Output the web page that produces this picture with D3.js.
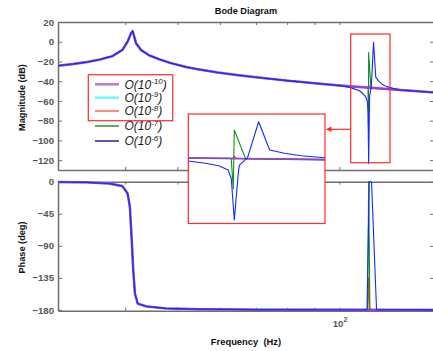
<!DOCTYPE html>
<html>
<head>
<meta charset="utf-8">
<script src="https://cdn.jsdelivr.net/npm/d3@7"></script>
<style>
  body { margin: 0; background: #fff; }
  svg { display: block; font-family: "Liberation Sans", Arial, sans-serif; }
</style>
</head>
<body>
<svg id="chart" width="433" height="351"></svg>
<script>
// ---- data -------------------------------------------------------------
// perturbation orders shown in the legend, O(10^k)
const orderExponents = ["-10", "-9", "-8", "-7", "-6"];

// response shared by every order (Hz, dB, deg)
const baseFreq = [30, 32, 34, 35.8, 37.9, 39.5, 40.4, 41.0, 41.3, 41.5, 41.9, 42.8, 44.3, 46.3,
                  48.5, 51.9, 55, 59.4, 65, 70, 80, 90, 100, 105, 110, 113.4, 116, 120, 122.6,
                  126, 130, 140, 150];
const baseMag  = [-24.3, -22.6, -20.5, -18.2, -14.5, -8.4, 0, 8.5, 10.9, 6.8, -1.6, -8.4, -13.8, -17.8,
                  -21.5, -25.6, -28.2, -31.2, -34, -36, -39.4, -42.1, -44.3, -45.2, -46.0, -46.5, -46.9,
                  -47.5, -47.9, -48.4, -48.9, -50.2, -51.4];
const phaseFreq = [30, 34, 37.3, 39.5, 40.4, 40.8, 41.1, 41.4, 41.7, 42.2, 43.8, 47.6, 55, 70, 100, 150];
const basePhase = [-0.5, -1, -2.5, -6, -16.4, -35, -77, -124, -157, -171, -175, -177.7, -179, -179.5,
                   -179.7, -179.8];

// local behaviour around the 113 Hz mode, replacing the shared response in this band
const detailBand = [104, 128];

const o8MagFreq = [105, 113.2, 113.4, 113.6, 126];
const o8Mag     = [-45.2, -46.5, -43.5, -46.6, -48.4];
const o8PhFreq  = [105, 112.9, 113.4, 113.9, 126];
const o8Phase   = [-179.7, -179.7, -135, -179.7, -179.7];

const o7MagFreq = [105, 113.1, 113.3, 113.4, 114.5, 126];
const o7Mag     = [-45.2, -46.4, -84.7, -10.9, -46.7, -48.4];
const o7PhFreq  = [105, 112.9, 113.4, 114.0, 126];
const o7Phase   = [-179.7, -179.7, 0, -179.7, -179.7];

const o6MagFreq = [105, 109.0, 110.6, 111.9, 112.8, 113.1, 113.4, 113.8, 113.9, 114.7, 115.8, 116.9,
                   118.4, 120.1, 122.6, 126];
const o6Mag     = [-46.5, -49.7, -52.5, -55.5, -60.9, -71.3, -123.5, -63.1, -54.7, -45.5, -0.5, -35.9,
                   -40, -43, -45.5, -47.3];
const o6PhFreq  = [105, 112.6, 113.7, 114.8, 117.3, 126];
const o6Phase   = [-179.7, -179.7, 0, 0, -179.7, -179.7];

// axis ticks
const magTicks = [20, 0, -20, -40, -60, -80, -100, -120];
const phaseTicks = [0, -45, -90, -135, -180];
const freqTicks = [30, 40, 50, 60, 70, 80, 90, 100];

// ---- helpers ------------------------------------------------------------
const zip = (f, v) => f.map((d, i) => ({ f: d, v: v[i] }));
function compose(bf, bv, df, dv) {
  const outside = zip(bf, bv).filter(p => p.f < detailBand[0] || p.f > detailBand[1]);
  return outside.concat(df ? zip(df, dv) : []).sort((a, b) => a.f - b.f);
}

const series = [
  { mag: compose(baseFreq, baseMag), ph: compose(phaseFreq, basePhase) },
  { mag: compose(baseFreq, baseMag), ph: compose(phaseFreq, basePhase) },
  { mag: compose(baseFreq, baseMag, o8MagFreq, o8Mag), ph: compose(phaseFreq, basePhase, o8PhFreq, o8Phase) },
  { mag: compose(baseFreq, baseMag, o7MagFreq, o7Mag), ph: compose(phaseFreq, basePhase, o7PhFreq, o7Phase) },
  { mag: compose(baseFreq, baseMag, o6MagFreq, o6Mag), ph: compose(phaseFreq, basePhase, o6PhFreq, o6Phase) }
];
const lineColors   = ["#9b3fd0", "#66f0f0", "#ff3b1f", "#109010", "#1428ff"];
const lineWidths   = [2.4, 2.2, 1.2, 1.1, 1.1];
const legendColors = ["#c07ed0", "#78f6f6", "#f4603c", "#1a8a1a", "#14148c"];
const drawOrder = [1, 2, 3, 0, 4];

// ---- layout -------------------------------------------------------------
const svg = d3.select("#chart");
const X0 = 58, X1 = 434;
const magTop = 22, magBot = 170, phTop = 181.7, phBot = 310.7;
const axisColor = "#6f6f6f";

const x = d3.scaleLog().domain([30, 150]).range([X0, X1]);
const yMag = d3.scaleLinear().domain([-130, 20]).range([magBot, magTop]);
const yPh = d3.scaleLinear().domain([-181, 0]).range([phBot, phTop]);

const defs = svg.append("defs");
defs.append("clipPath").attr("id", "clipMag").append("rect")
  .attr("x", X0).attr("y", magTop - 1).attr("width", X1 - X0).attr("height", magBot - magTop + 2);
defs.append("clipPath").attr("id", "clipPh").append("rect")
  .attr("x", X0).attr("y", phTop - 1.5).attr("width", X1 - X0).attr("height", phBot - phTop + 2);

// title
svg.append("text").attr("x", 246).attr("y", 13.5).attr("text-anchor", "middle")
  .attr("font-size", 9.2).attr("font-weight", "bold").attr("fill", "#111").text("Bode Diagram");

function styleAxis(g) {
  g.selectAll(".domain").attr("stroke", axisColor).attr("stroke-width", 1.5);
  g.selectAll(".tick line").attr("stroke", axisColor).attr("stroke-width", 1);
  g.selectAll(".tick text").attr("fill", "#555").attr("font-weight", "bold")
    .attr("font-size", 9.6).attr("font-family", "'Liberation Sans', Arial, sans-serif");
}

function panel(yScale, ticks, top, bot) {
  const g = svg.append("g");
  g.append("g").attr("transform", `translate(${X0},0)`)
    .call(d3.axisLeft(yScale).tickValues(ticks).tickSize(-4).tickSizeOuter(0).tickPadding(4))
    .call(styleAxis);
  g.append("g").attr("transform", `translate(${X1},0)`)
    .call(d3.axisRight(yScale).tickValues(ticks).tickSize(-4).tickSizeOuter(0).tickFormat(""))
    .call(styleAxis);
  g.append("g").attr("transform", `translate(0,${top})`)
    .call(d3.axisTop(x).tickValues(freqTicks).tickSize(-3).tickSizeOuter(0).tickFormat(""))
    .call(styleAxis);
  g.append("g").attr("transform", `translate(0,${bot})`)
    .call(d3.axisBottom(x).tickValues(freqTicks).tickSize(-3).tickSizeOuter(0).tickFormat(""))
    .call(styleAxis);
  return g;
}

panel(yMag, magTicks, magTop, magBot);
panel(yPh, phaseTicks, phTop, phBot);

// decade label 10^2
const dec = svg.append("text").attr("x", x(100) - 6.5).attr("y", 327)
  .attr("font-size", 9.6).attr("font-weight", "bold").attr("fill", "#555");
dec.append("tspan").text("10");
dec.append("tspan").attr("dy", -5).attr("font-size", 7).text("2");

// axis titles
svg.append("text").attr("transform", "translate(25,97.5) rotate(-90)").attr("text-anchor", "middle")
  .attr("font-size", 9.2).attr("font-weight", "bold").attr("fill", "#111").text("Magnitude (dB)");
svg.append("text").attr("transform", "translate(25,247.5) rotate(-90)").attr("text-anchor", "middle")
  .attr("font-size", 9.2).attr("font-weight", "bold").attr("fill", "#111").text("Phase (deg)");
svg.append("text").attr("x", 246).attr("y", 345).attr("text-anchor", "middle")
  .attr("font-size", 9.4).attr("font-weight", "bold").attr("fill", "#111")
  .attr("xml:space", "preserve").text("Frequency  (Hz)");

// curves
const magLine = d3.line().x(p => x(p.f)).y(p => yMag(p.v));
const phLine = d3.line().x(p => x(p.f)).y(p => yPh(p.v));
const gMag = svg.append("g").attr("clip-path", "url(#clipMag)");
const gPh = svg.append("g").attr("clip-path", "url(#clipPh)");
drawOrder.forEach(i => {
  gMag.append("path").attr("d", magLine(series[i].mag)).attr("fill", "none")
    .attr("stroke", lineColors[i]).attr("stroke-width", lineWidths[i]).attr("stroke-linejoin", "round");
  gPh.append("path").attr("d", phLine(series[i].ph)).attr("fill", "none")
    .attr("stroke", lineColors[i]).attr("stroke-width", lineWidths[i]).attr("stroke-linejoin", "round");
});

// legend
const legY = [84.3, 97.7, 111, 126, 141];
const leg = svg.append("g");
orderExponents.forEach((e, i) => {
  leg.append("line").attr("x1", 95).attr("x2", 119).attr("y1", legY[i]).attr("y2", legY[i])
    .attr("stroke", legendColors[i]).attr("stroke-width", i < 2 ? 2.6 : 1.4);
  const t = leg.append("text").attr("x", 124.5).attr("y", legY[i] + 4.2)
    .attr("font-size", 12).attr("font-style", "italic").attr("fill", "#1c1c1c");
  t.append("tspan").text("O(10");
  t.append("tspan").attr("dy", -4.5).attr("font-size", 8).text(e);
  t.append("tspan").attr("dy", 4.5).text(")");
});
leg.append("rect").attr("x", 88.3).attr("y", 74.7).attr("width", 84.4).attr("height", 46)
  .attr("fill", "none").attr("stroke", "#ff2a2a").attr("stroke-width", 1.2);

// highlight around the 113 Hz mode
const red = "#ff2a2a";
svg.append("rect").attr("x", 350.7).attr("y", 34).attr("width", 39.3).attr("height", 128.7)
  .attr("fill", "none").attr("stroke", red).attr("stroke-width", 1.2);
svg.append("line").attr("x1", 350.7).attr("x2", 330).attr("y1", 129.3).attr("y2", 129.3)
  .attr("stroke", red).attr("stroke-width", 1.2);
svg.append("path").attr("d", "M325.8,129.3 L331.5,126.6 L331.5,132 Z").attr("fill", red);

// magnified inset of the 113 Hz mode
const inX0 = 188.3, inX1 = 325, inY0 = 114, inY1 = 223.5;
const xIn = d3.scaleLog().domain([109, 122.6]).range([inX0, inX1]);
const yIn = d3.scaleLinear().domain([-128.5, 9.2]).range([224, 114]);
defs.append("clipPath").attr("id", "clipIn").append("rect")
  .attr("x", inX0).attr("y", inY0).attr("width", inX1 - inX0).attr("height", inY1 - inY0);
svg.append("rect").attr("x", inX0).attr("y", inY0).attr("width", inX1 - inX0).attr("height", inY1 - inY0)
  .attr("fill", "#fff");
const inLine = d3.line().x(p => xIn(p.f)).y(p => yIn(p.v));
const gIn = svg.append("g").attr("clip-path", "url(#clipIn)");
drawOrder.forEach(i => {
  gIn.append("path").attr("d", inLine(series[i].mag)).attr("fill", "none")
    .attr("stroke", lineColors[i]).attr("stroke-width", i < 2 ? 1.6 : 1.1).attr("stroke-linejoin", "round");
});
svg.append("rect").attr("x", inX0).attr("y", inY0).attr("width", inX1 - inX0).attr("height", inY1 - inY0)
  .attr("fill", "none").attr("stroke", red).attr("stroke-width", 1.2);
</script>
</body>
</html>
